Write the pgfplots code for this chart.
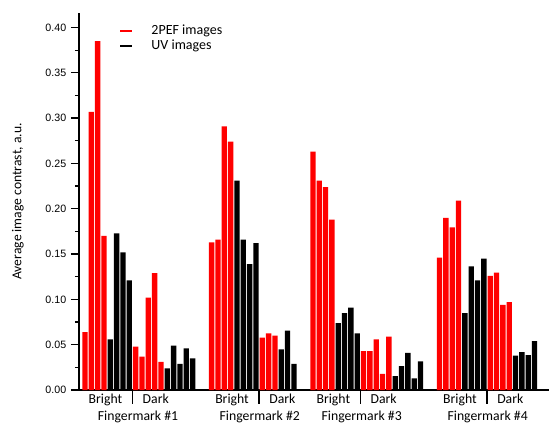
\documentclass[border=0pt]{standalone}
\usepackage{fontspec}
\setmainfont{Carlito}
\newfontfamily\tickfont{Liberation Sans}
\usepackage{pgfplots}
\usepackage{pgfplotstable}
\pgfplotsset{compat=1.18}

% bar index: one unit per bar, 3 empty slots between fingermarks
\pgfplotstableread{
x y
0 0.064
1 0.307
2 0.385
3 0.170
8 0.048
9 0.037
10 0.102
11 0.129
12 0.031
20 0.163
21 0.166
22 0.291
23 0.274
28 0.058
29 0.0625
30 0.060
36 0.263
37 0.231
38 0.224
39 0.188
44 0.043
45 0.043
46 0.056
47 0.018
48 0.059
56 0.146
57 0.190
58 0.1795
59 0.209
64 0.126
65 0.1295
66 0.094
67 0.097
}\reddata

\pgfplotstableread{
x y
4 0.056
5 0.173
6 0.152
7 0.121
13 0.024
14 0.049
15 0.029
16 0.046
17 0.035
24 0.231
25 0.166
26 0.139
27 0.162
31 0.045
32 0.0655
33 0.029
40 0.074
41 0.085
42 0.091
43 0.0625
49 0.0155
50 0.0265
51 0.041
52 0.013
53 0.0316
60 0.085
61 0.1365
62 0.121
63 0.145
68 0.038
69 0.042
70 0.0386
71 0.054
}\blackdata

\tikzset{lab/.style={inner sep=0pt, font=\fontsize{10.3}{12}\selectfont}}

\begin{document}
\begin{tikzpicture}
\begin{axis}[
    scale only axis, width=352.5pt, height=282.75pt,
    xmin=-0.95, xmax=73.3, ymin=0, ymax=0.416,
    axis x line=bottom, axis y line=left,
    axis line style={-, line width=1pt},
    xtick=\empty,
    ytick={0,0.05,0.10,0.15,0.20,0.25,0.30,0.35,0.40},
    minor y tick num=1,
    tick align=outside, major tick length=6pt, minor tick length=3pt,
    tick style={black, line width=1pt},
    /pgf/number format/assume math mode=true,
    yticklabel style={font=\tickfont\fontsize{8}{9}\selectfont,
      /pgf/number format/fixed, /pgf/number format/fixed zerofill,
      /pgf/number format/precision=2},
    ylabel={Average image contrast, a.u.},
    ylabel style={font=\fontsize{10.2}{12}\selectfont,
      at={(axis description cs:-0.1298,0.5)}, anchor=center},
    clip=false,
    legend image code/.code={\draw[#1] (0pt,0pt) -- (8.7pt,0pt);},
    legend cell align=left,
    legend style={at={(axis description cs:0.0855,0.973)}, anchor=north west,
      draw=none, fill=none, inner sep=0pt, row sep=0pt, column sep=13pt,
      font=\fontsize{10.5}{12}\selectfont,
      nodes={inner sep=1.125pt, text height=7pt, text depth=2pt}},
  ]
  \addlegendimage{red, line width=1.2pt}
  \addlegendentry{2PEF images}
  \addlegendimage{black, line width=1.2pt}
  \addlegendentry{UV images}

  \addplot[ybar, bar width=0.84, bar shift=0pt, fill=red, draw=none, forget plot]
    table {\reddata};
  \addplot[ybar, bar width=0.84, bar shift=0pt, fill=black, draw=none, forget plot]
    table {\blackdata};

  % Bright | Dark dividers and labels
  \pgfplotsinvokeforeach{7.5,27.5,43.5,63.5}{
    \draw[line width=1pt] (axis cs:#1,0) -- ([yshift=-10.5pt]axis cs:#1,0);
    \node[lab, anchor=base east] at ([xshift=-7.5pt, yshift=-9.75pt]axis cs:#1,0) {Bright};
    \node[lab, anchor=base west] at ([xshift=7.5pt, yshift=-9.75pt]axis cs:#1,0) {Dark};
  }
  \node[lab, anchor=base] at ([yshift=-22.5pt]axis cs:8.37,0) {Fingermark \#1};
  \node[lab, anchor=base] at ([yshift=-22.5pt]axis cs:27.6,0) {Fingermark \#2};
  \node[lab, anchor=base] at ([yshift=-22.5pt]axis cs:43.7,0) {Fingermark \#3};
  \node[lab, anchor=base] at ([yshift=-22.5pt]axis cs:63.6,0) {Fingermark \#4};

  \coordinate (bbsw) at (rel axis cs:-0.168,-0.0849);
  \coordinate (bbne) at (rel axis cs:1.002,1.0345);
\end{axis}
\pgfresetboundingbox
\path[use as bounding box] (bbsw) rectangle (bbne);
\end{tikzpicture}
\end{document}
